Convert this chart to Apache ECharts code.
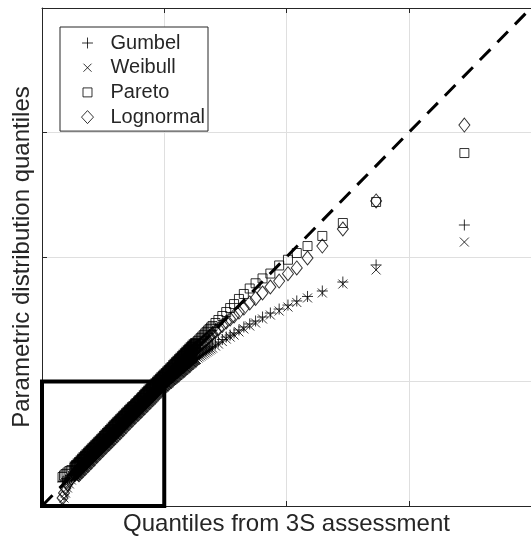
<!DOCTYPE html>
<html>
<head>
<meta charset="utf-8">
<script src="https://cdn.jsdelivr.net/npm/echarts@6/dist/echarts.min.js"></script>
<style>
  html, body { margin: 0; padding: 0; background: #fff; }
  #chart { width: 531px; height: 545px; }
</style>
</head>
<body>
<div id="chart"></div>
<script>
// Empirical quantiles (horizontal) and the matching quantiles of each fitted distribution
const empirical = [3.455, 2.733, 2.461, 2.293, 2.172, 2.084, 2.012, 1.940, 1.868, 1.804, 1.747, 1.699, 1.651, 1.611, 1.571, 1.539, 1.507, 1.475, 1.443, 1.419, 1.395, 1.371, 1.347, 1.323, 1.299, 1.275, 1.251, 1.226, 1.202, 1.178, 1.154, 1.130, 1.106, 1.082, 1.058, 1.034, 1.010, 0.986, 0.962, 0.938, 0.914, 0.890, 0.866, 0.842, 0.818, 0.794, 0.770, 0.745, 0.721, 0.697, 0.673, 0.649, 0.625, 0.601, 0.577, 0.553, 0.529, 0.505, 0.481, 0.457, 0.433, 0.409, 0.385, 0.361, 0.337, 0.313, 0.289, 0.265, 0.240, 0.224, 0.208, 0.192, 0.180, 0.168,
  1.383, 1.359, 1.335, 1.311, 1.287, 1.263, 1.238, 1.214, 1.190, 1.166, 1.142, 1.118, 1.094, 1.070, 1.046, 1.022, 0.998, 0.974, 0.950, 0.926, 0.902, 0.878, 0.854, 0.830, 0.806, 0.782, 0.758, 0.733, 0.709, 0.685, 0.661, 0.637, 0.613, 0.589, 0.565, 0.541, 0.517, 0.493, 0.469, 0.445, 0.421, 0.397, 0.373, 0.349, 0.325, 0.301, 0.277];
const gumbel = [2.257, 1.936, 1.799, 1.727, 1.683, 1.647, 1.614, 1.582, 1.550, 1.518, 1.486, 1.462, 1.438, 1.414, 1.390, 1.373, 1.357, 1.337, 1.317, 1.301, 1.285, 1.269, 1.253, 1.237, 1.221, 1.205, 1.185, 1.165, 1.145, 1.124, 1.104, 1.084, 1.064, 1.044, 1.024, 1.004, 0.984, 0.964, 0.940, 0.916, 0.892, 0.868, 0.843, 0.819, 0.795, 0.771, 0.747, 0.723, 0.699, 0.675, 0.651, 0.627, 0.602, 0.578, 0.554, 0.530, 0.506, 0.482, 0.458, 0.434, 0.410, 0.386, 0.361, 0.337, 0.313, 0.289, 0.265, 0.245, 0.233, 0.225, 0.217, 0.209, 0.201, 0.193,
  1.277, 1.261, 1.245, 1.229, 1.213, 1.193, 1.177, 1.157, 1.137, 1.116, 1.096, 1.076, 1.056, 1.036, 1.016, 0.996, 0.972, 0.952, 0.928, 0.904, 0.880, 0.855, 0.831, 0.807, 0.783, 0.759, 0.735, 0.711, 0.687, 0.663, 0.639, 0.614, 0.590, 0.566, 0.542, 0.518, 0.494, 0.470, 0.446, 0.422, 0.398, 0.373, 0.349, 0.325, 0.301, 0.277, 0.253];
const weibull = [2.120, 1.896, 1.783, 1.711, 1.671, 1.635, 1.598, 1.566, 1.534, 1.502, 1.470, 1.446, 1.422, 1.398, 1.373, 1.357, 1.341, 1.321, 1.301, 1.285, 1.269, 1.253, 1.237, 1.221, 1.205, 1.189, 1.169, 1.149, 1.129, 1.108, 1.088, 1.068, 1.048, 1.028, 1.008, 0.988, 0.968, 0.948, 0.924, 0.900, 0.876, 0.851, 0.831, 0.807, 0.783, 0.759, 0.735, 0.711, 0.687, 0.663, 0.639, 0.614, 0.590, 0.566, 0.542, 0.518, 0.494, 0.470, 0.446, 0.422, 0.398, 0.373, 0.349, 0.325, 0.301, 0.277, 0.253, 0.233, 0.209, 0.177, 0.145, 0.104, 0.064, 0.024,
  1.261, 1.245, 1.229, 1.213, 1.197, 1.177, 1.161, 1.141, 1.120, 1.100, 1.080, 1.060, 1.040, 1.020, 1.000, 0.980, 0.956, 0.936, 0.912, 0.888, 0.863, 0.839, 0.815, 0.791, 0.767, 0.743, 0.719, 0.695, 0.671, 0.647, 0.622, 0.598, 0.574, 0.550, 0.526, 0.502, 0.478, 0.454, 0.430, 0.406, 0.382, 0.357, 0.333, 0.309, 0.285, 0.261, 0.241];
const pareto = [2.835, 2.442, 2.273, 2.169, 2.088, 2.032, 1.978, 1.932, 1.867, 1.828, 1.789, 1.747, 1.703, 1.663, 1.622, 1.590, 1.558, 1.526, 1.494, 1.470, 1.446, 1.422, 1.398, 1.373, 1.349, 1.325, 1.301, 1.277, 1.253, 1.229, 1.205, 1.181, 1.157, 1.133, 1.108, 1.084, 1.060, 1.036, 1.012, 0.988, 0.964, 0.940, 0.916, 0.892, 0.867, 0.843, 0.819, 0.795, 0.771, 0.747, 0.723, 0.699, 0.675, 0.651, 0.622, 0.598, 0.574, 0.550, 0.526, 0.502, 0.478, 0.454, 0.430, 0.402, 0.378, 0.353, 0.329, 0.309, 0.289, 0.281, 0.269, 0.257, 0.245, 0.233,
  1.434, 1.410, 1.386, 1.361, 1.337, 1.313, 1.289, 1.265, 1.241, 1.217, 1.193, 1.169, 1.145, 1.120, 1.096, 1.072, 1.048, 1.024, 1.000, 0.976, 0.952, 0.928, 0.904, 0.880, 0.855, 0.831, 0.807, 0.783, 0.759, 0.735, 0.711, 0.687, 0.663, 0.639, 0.614, 0.590, 0.566, 0.538, 0.514, 0.490, 0.466, 0.442, 0.418, 0.394, 0.369, 0.345, 0.321];
const lognormal = [3.060, 2.450, 2.225, 2.088, 1.992, 1.912, 1.866, 1.807, 1.759, 1.711, 1.667, 1.631, 1.590, 1.558, 1.526, 1.502, 1.478, 1.450, 1.422, 1.402, 1.382, 1.361, 1.341, 1.321, 1.301, 1.281, 1.257, 1.233, 1.209, 1.185, 1.157, 1.133, 1.108, 1.084, 1.060, 1.036, 1.004, 0.980, 0.952, 0.928, 0.904, 0.876, 0.851, 0.827, 0.803, 0.779, 0.755, 0.731, 0.707, 0.683, 0.659, 0.635, 0.610, 0.586, 0.562, 0.542, 0.518, 0.498, 0.474, 0.450, 0.426, 0.402, 0.378, 0.353, 0.329, 0.305, 0.281, 0.253, 0.225, 0.201, 0.177, 0.145, 0.104, 0.064,
  1.373, 1.353, 1.329, 1.309, 1.289, 1.265, 1.245, 1.221, 1.197, 1.169, 1.145, 1.120, 1.096, 1.068, 1.044, 1.016, 0.992, 0.964, 0.940, 0.916, 0.888, 0.863, 0.839, 0.815, 0.791, 0.767, 0.743, 0.719, 0.695, 0.671, 0.647, 0.622, 0.598, 0.578, 0.554, 0.534, 0.510, 0.486, 0.462, 0.438, 0.414, 0.390, 0.365, 0.341, 0.317, 0.293, 0.265];

// The crowded lower part of the sample, where the markers merge into one solid band
const bandEmpirical = [0.271, 0.283, 0.295, 0.307, 0.319, 0.331, 0.343, 0.355, 0.367, 0.379, 0.391, 0.403, 0.415, 0.427, 0.439, 0.451, 0.463, 0.475, 0.487, 0.499, 0.511, 0.523, 0.535, 0.547, 0.559, 0.571, 0.583, 0.595, 0.607, 0.619, 0.631, 0.643, 0.655, 0.667, 0.679, 0.691, 0.703, 0.715, 0.727, 0.739, 0.752, 0.764, 0.776, 0.788, 0.800, 0.812, 0.824, 0.836, 0.848, 0.860, 0.872, 0.884, 0.896, 0.908, 0.920, 0.932, 0.944, 0.956, 0.968, 0.980, 0.992,
  1.004, 1.016, 1.028, 1.040, 1.052, 1.064, 1.076, 1.088, 1.100, 1.112, 1.124, 1.136, 1.148, 1.160, 1.172, 1.184, 1.196, 1.208, 1.220, 1.232, 1.244, 1.257];
const bandGumbel = [0.247, 0.259, 0.271, 0.283, 0.295, 0.307, 0.319, 0.331, 0.343, 0.355, 0.367, 0.380, 0.392, 0.404, 0.416, 0.428, 0.440, 0.452, 0.464, 0.476, 0.488, 0.500, 0.512, 0.524, 0.536, 0.548, 0.560, 0.572, 0.584, 0.596, 0.608, 0.620, 0.633, 0.645, 0.657, 0.669, 0.681, 0.693, 0.705, 0.717, 0.729, 0.741, 0.753, 0.765, 0.777, 0.789, 0.801, 0.813, 0.825, 0.837, 0.849, 0.861, 0.873, 0.886, 0.898, 0.910, 0.922, 0.934, 0.946, 0.958, 0.970,
  0.978, 0.990, 0.998, 1.010, 1.022, 1.030, 1.042, 1.050, 1.062, 1.070, 1.082, 1.090, 1.102, 1.110, 1.122, 1.131, 1.143, 1.151, 1.163, 1.171, 1.183, 1.191];
const bandWeibull = [0.231, 0.243, 0.255, 0.267, 0.279, 0.291, 0.303, 0.315, 0.327, 0.339, 0.351, 0.363, 0.376, 0.388, 0.400, 0.412, 0.424, 0.436, 0.448, 0.460, 0.472, 0.484, 0.496, 0.508, 0.520, 0.532, 0.544, 0.556, 0.568, 0.580, 0.592, 0.604, 0.616, 0.629, 0.641, 0.653, 0.665, 0.677, 0.689, 0.701, 0.713, 0.725, 0.737, 0.749, 0.761, 0.773, 0.785, 0.797, 0.809, 0.821, 0.833, 0.845, 0.857, 0.869, 0.882, 0.894, 0.906, 0.918, 0.930, 0.942, 0.954,
  0.962, 0.974, 0.982, 0.994, 1.006, 1.014, 1.026, 1.034, 1.046, 1.054, 1.066, 1.074, 1.086, 1.094, 1.106, 1.115, 1.127, 1.135, 1.147, 1.155, 1.167, 1.175];
const bandPareto = [0.315, 0.327, 0.339, 0.351, 0.363, 0.376, 0.388, 0.400, 0.412, 0.424, 0.436, 0.448, 0.460, 0.472, 0.484, 0.496, 0.508, 0.520, 0.532, 0.544, 0.560, 0.572, 0.584, 0.596, 0.608, 0.620, 0.633, 0.645, 0.657, 0.669, 0.681, 0.693, 0.705, 0.717, 0.729, 0.741, 0.753, 0.765, 0.777, 0.789, 0.801, 0.813, 0.825, 0.837, 0.849, 0.861, 0.873, 0.886, 0.898, 0.910, 0.922, 0.934, 0.946, 0.958, 0.970, 0.982, 0.994, 1.006, 1.018, 1.030, 1.042,
  1.054, 1.066, 1.078, 1.090, 1.102, 1.114, 1.127, 1.139, 1.151, 1.163, 1.175, 1.187, 1.199, 1.211, 1.223, 1.235, 1.247, 1.259, 1.271, 1.283, 1.295, 1.307];
const bandLognormal = [0.259, 0.271, 0.283, 0.295, 0.307, 0.319, 0.331, 0.343, 0.355, 0.367, 0.380, 0.392, 0.404, 0.416, 0.428, 0.440, 0.452, 0.464, 0.476, 0.488, 0.500, 0.512, 0.524, 0.536, 0.548, 0.560, 0.572, 0.584, 0.596, 0.608, 0.620, 0.633, 0.645, 0.657, 0.669, 0.681, 0.693, 0.705, 0.717, 0.729, 0.741, 0.753, 0.765, 0.777, 0.789, 0.801, 0.813, 0.825, 0.837, 0.849, 0.861, 0.873, 0.886, 0.898, 0.910, 0.922, 0.934, 0.946, 0.958, 0.970, 0.982,
  0.998, 1.010, 1.022, 1.034, 1.050, 1.062, 1.074, 1.090, 1.102, 1.114, 1.127, 1.139, 1.151, 1.163, 1.175, 1.187, 1.199, 1.215, 1.227, 1.239, 1.251, 1.263];

// Reference diagonal and the zoom window drawn around the lower tail
const diagonal = [[0, 0], [4, 4]];
const zoomBox = [[0, 0], [1, 0], [1, 1], [0, 1], [0, 0]];

const seriesNames = ['Gumbel', 'Weibull', 'Pareto', 'Lognormal'];
const axisMin = 0, axisMax = 4, axisStep = 1;

const INK = '#262626';
const FONT = '"Liberation Sans", Arial, Helvetica, sans-serif';

// Marker outlines (plot symbols)
const plusPath = 'path://M0,5L10,5M5,0L5,10';
const crossPath = 'path://M0,0L10,10M0,10L10,0';
const squarePath = 'path://M0,0L10,0L10,10L0,10Z';
const diamondPath = 'path://M5,0L10,6.5L5,13L0,6.5Z';

// Legend icons: same outlines, with empty margins so each keeps its own size in the key
const legendIcons = {
  Gumbel: 'path://M-1.4,-1.4M0,5L10,5M5,0L5,10M11.4,11.4',
  Weibull: 'path://M-3.7,-3.7M0,0L10,10M0,10L10,0M13.7,13.7',
  Pareto: 'path://M-2.8,-2.8M0,0L10,0L10,10L0,10ZM12.8,12.8',
  Lognormal: 'path://M6,-0.5M6,0L12,6.5L6,13L0,6.5ZM6,13.5'
};

function pairs(xs, ys) {
  return xs.map((x, i) => [x, ys[i]]);
}

function markerSeries(name, data, symbol, size, strokeWidth) {
  return {
    name: name,
    type: 'scatter',
    data: data,
    symbol: symbol,
    symbolSize: size,
    itemStyle: { color: 'rgba(0,0,0,0)', borderColor: '#000', borderWidth: strokeWidth },
    emphasis: { disabled: true },
    silent: true,
    z: 3
  };
}

const markers = [
  ['Gumbel', gumbel, bandGumbel, plusPath, 11],
  ['Weibull', weibull, bandWeibull, crossPath, 9],
  ['Pareto', pareto, bandPareto, squarePath, 9],
  ['Lognormal', lognormal, bandLognormal, diamondPath, [11, 14]]
];

const scatterSeries = [];
markers.forEach(([name, ys, bandYs, symbol, size]) => {
  scatterSeries.push(markerSeries(name, pairs(empirical, ys), symbol, size, 1));
});
// the overlapping markers of the crowded band, drawn with a heavier outline so they merge
markers.forEach(([name, ys, bandYs, symbol, size]) => {
  scatterSeries.push(markerSeries(name, pairs(bandEmpirical, bandYs), symbol, size, 1.8));
});

const chart = echarts.init(document.getElementById('chart'), null, { renderer: 'canvas' });

const baseAxis = {
  type: 'value',
  min: axisMin,
  max: axisMax,
  interval: axisStep,
  axisLabel: { show: false },
  axisLine: { show: true, onZero: false, lineStyle: { color: INK, width: 1 } },
  axisTick: { show: true, inside: true, length: 5, lineStyle: { color: INK, width: 1 } }
};

chart.setOption({
  animation: false,
  backgroundColor: '#fff',
  grid: { left: 42, top: 8, right: -10, bottom: 39, containLabel: false },
  legend: {
    data: seriesNames.map(n => ({ name: n, icon: legendIcons[n] })),
    orient: 'vertical',
    left: 60,
    top: 27,
    padding: [6, 3, 4, 20],
    itemWidth: 36,
    itemHeight: 14,
    itemGap: 4.7,
    backgroundColor: '#fff',
    borderColor: INK,
    borderWidth: 1,
    borderRadius: 0,
    selectedMode: false,
    itemStyle: { color: 'rgba(0,0,0,0)', borderColor: '#000', borderWidth: 1 },
    textStyle: { fontSize: 20, color: INK, fontFamily: FONT }
  },
  xAxis: [
    Object.assign({}, baseAxis, {
      position: 'bottom',
      name: 'Quantiles from 3S assessment',
      nameLocation: 'middle',
      nameGap: 6,
      nameTextStyle: { fontSize: 24, color: INK, fontFamily: FONT, verticalAlign: 'top' },
      splitLine: { show: true, lineStyle: { color: '#dfdfdf', width: 1 } }
    }),
    Object.assign({}, baseAxis, {
      position: 'top',
      splitLine: { show: false }
    })
  ],
  yAxis: [
    Object.assign({}, baseAxis, {
      position: 'left',
      name: 'Parametric distribution quantiles',
      nameLocation: 'middle',
      nameGap: 8,
      nameTextStyle: { fontSize: 24, color: INK, fontFamily: FONT },
      splitLine: { show: true, lineStyle: { color: '#dfdfdf', width: 1 } }
    })
  ],
  series: scatterSeries.concat([
    {
      type: 'line',
      data: diagonal,
      symbol: 'none',
      silent: true,
      lineStyle: { color: '#000', width: 3, type: [15, 10] },
      z: 4
    },
    {
      type: 'line',
      data: zoomBox,
      symbol: 'none',
      silent: true,
      clip: false,
      lineStyle: { color: '#000', width: 4, join: 'miter', cap: 'square' },
      z: 5
    }
  ])
});
</script>
</body>
</html>
